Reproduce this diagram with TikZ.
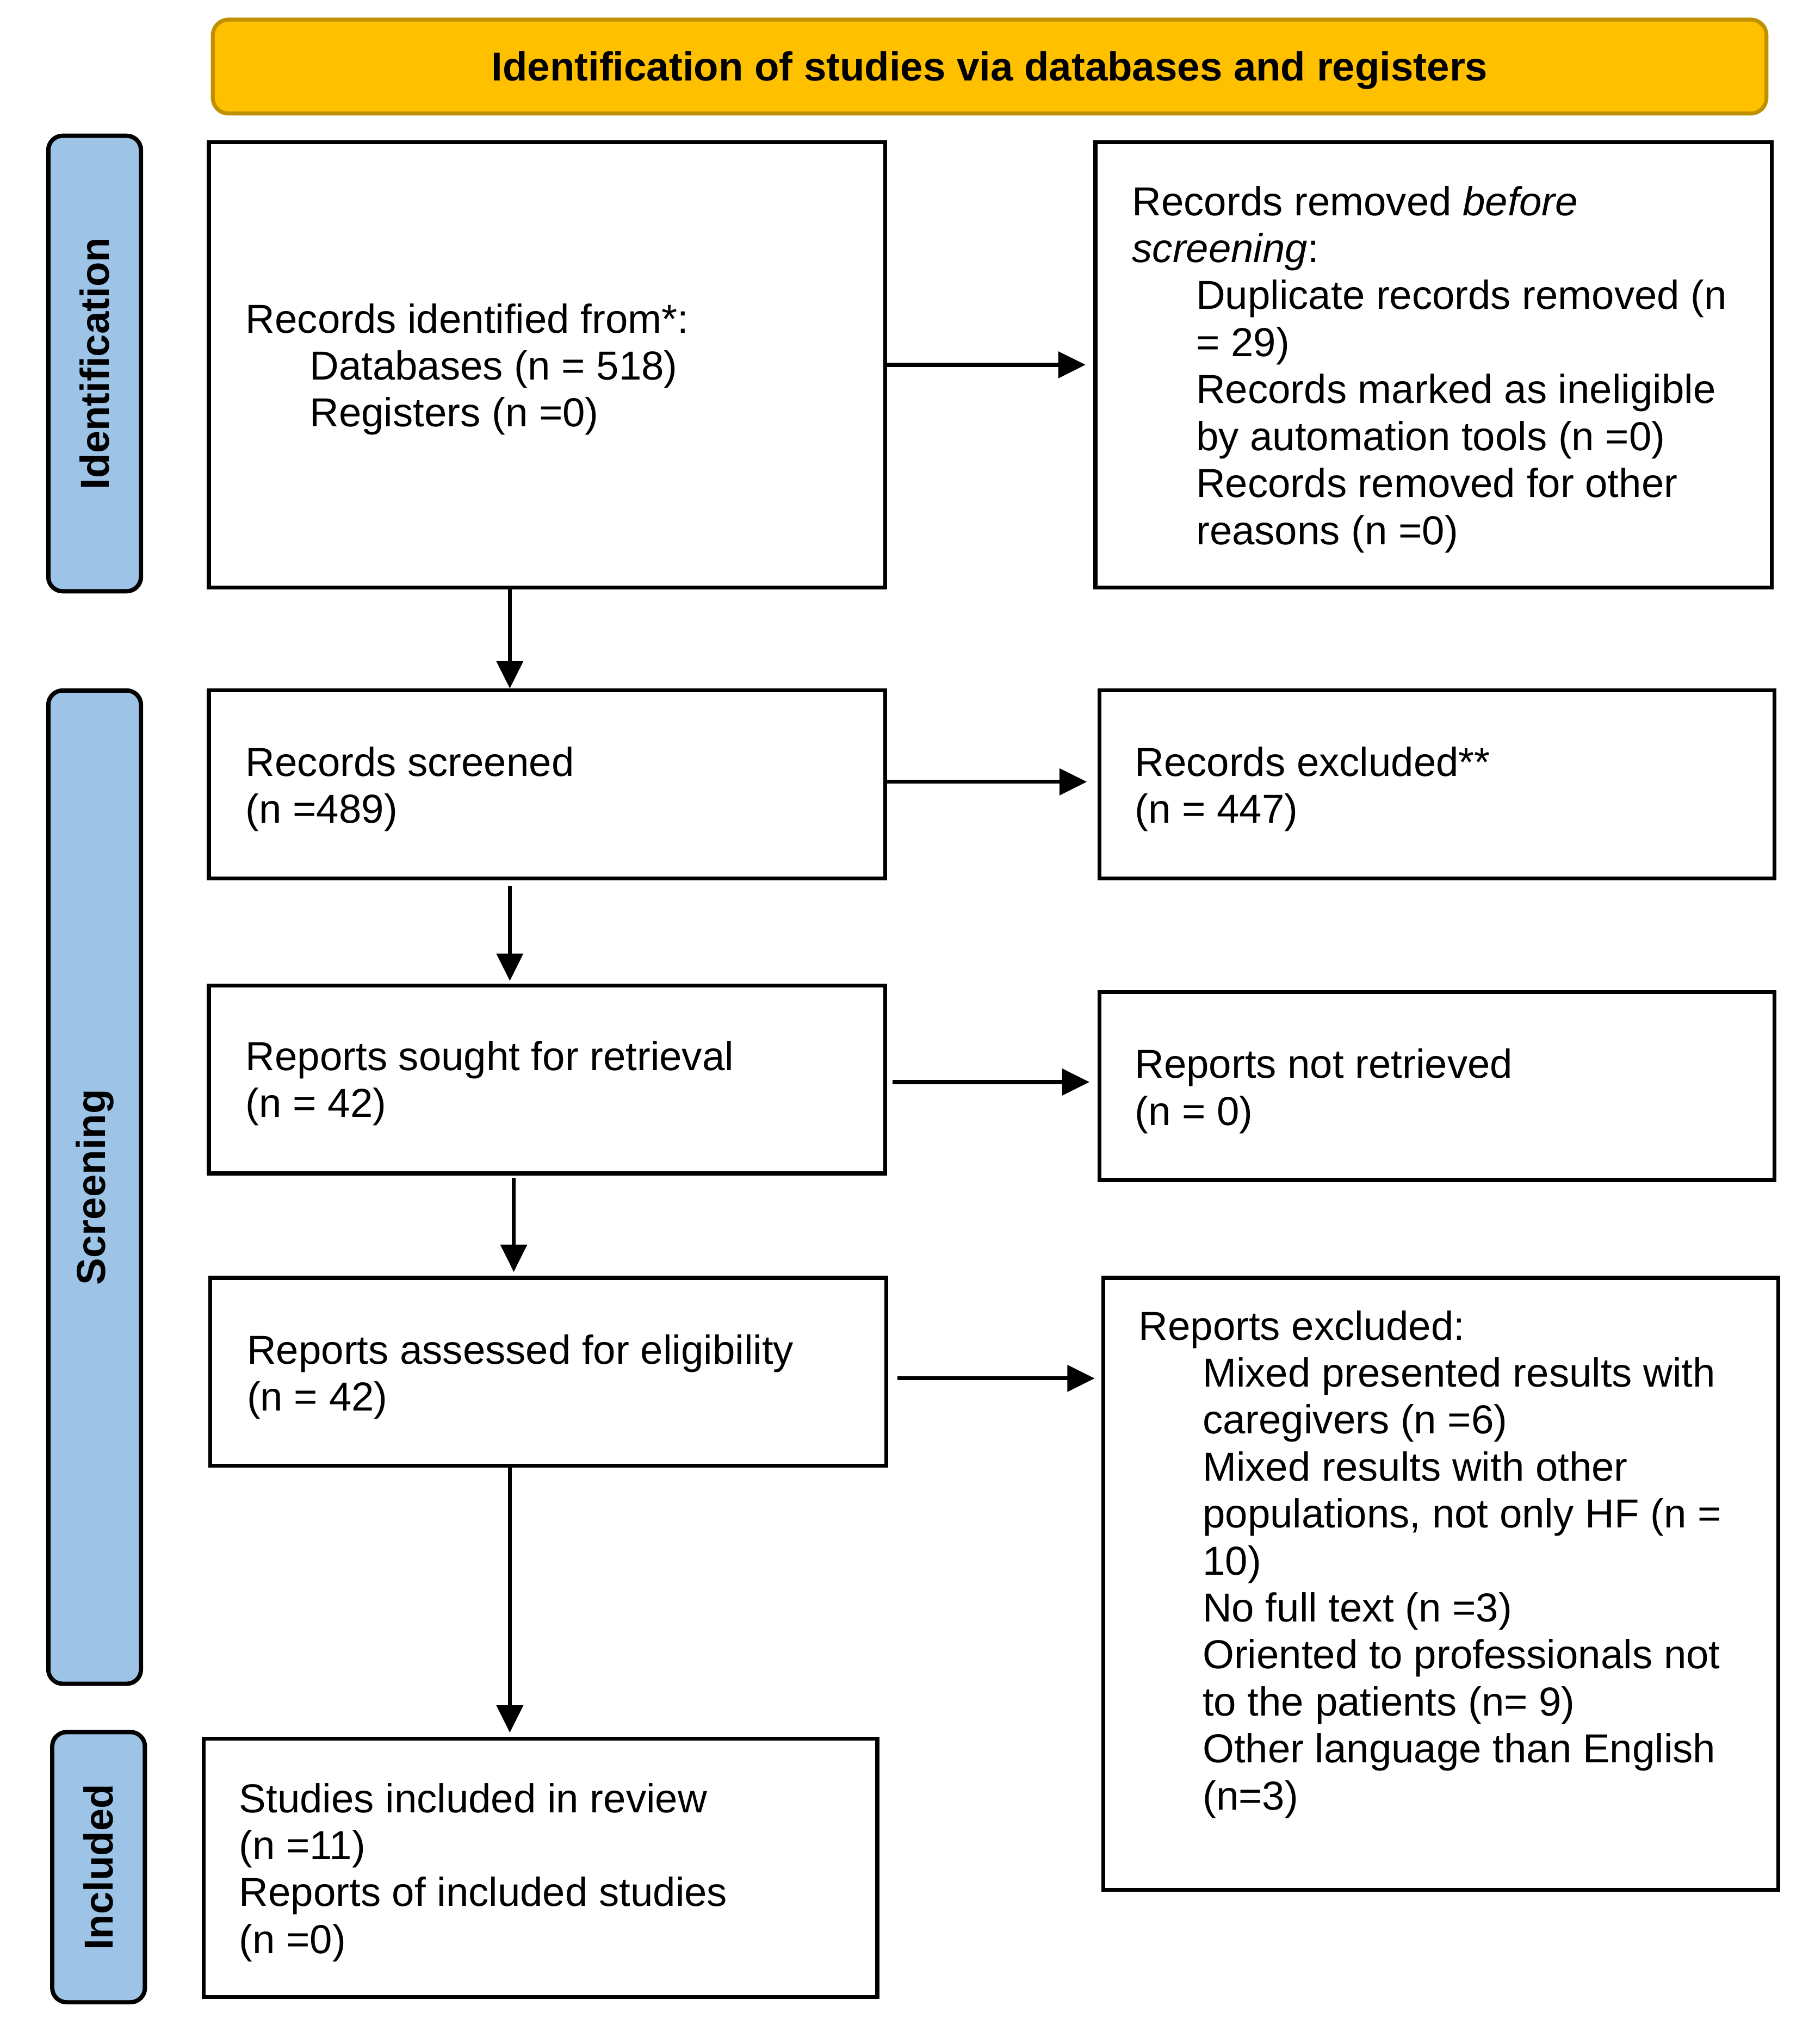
\documentclass[tikz,border=0pt]{standalone}
\usepackage{fontspec}
\setmainfont{Liberation Sans}
\usetikzlibrary{arrows.meta,calc}
\definecolor{gold}{HTML}{FFC000}
\definecolor{goldline}{HTML}{BF9000}
\definecolor{sideblue}{HTML}{9DC3E6}
\newcommand{\ind}{\hspace*{49pt}}
\begin{document}
\begin{tikzpicture}[x=1pt,y=-1pt,
  box/.style={draw=black,line width=3pt,inner sep=0pt},
  txt/.style={anchor=west,align=left,inner sep=0pt,font=\fontsize{31}{36}\selectfont},
  side/.style={draw=black,line width=3.3pt,fill=sideblue,rounded corners=11pt,inner sep=0pt},
  sidelabel/.style={rotate=90,inner sep=0pt,font=\fontsize{31}{36}\selectfont\bfseries},
  titlebox/.style={draw=goldline,line width=3pt,fill=gold,rounded corners=12pt,inner sep=0pt},
  titletext/.style={inner sep=0pt,font=\fontsize{31}{36}\selectfont\bfseries},
  arr/.style={line width=3pt,-{Triangle[length=21pt,width=20pt]}}]
\useasboundingbox (0,0) rectangle (1390,1566);
\fill[white] (0,0) rectangle (1390,1566);

% title
\node[titlebox,minimum width=1190pt,minimum height=72pt] (title) at (758,51) {};
\node[titletext] (tt) at ($(title.center)+(0,3)$) {Identification of studies via databases and registers};

% side labels
\node[side,minimum width=71pt,minimum height=349pt] (s1) at (72.5,278.5) {};
\node[sidelabel] (l1) at (s1.center) {Identification};
\node[side,minimum width=71pt,minimum height=761pt] (s2) at (72.5,909.5) {};
\node[sidelabel] (l2) at (s2.center) {Screening};
\node[side,minimum width=71pt,minimum height=207pt] (s3) at (75.5,1430.5) {};
\node[sidelabel] (l3) at (s3.center) {Included};

% boxes
\node[box,minimum width=518pt,minimum height=341pt] (b1) at (419,279.5) {};
\node[box,minimum width=518pt,minimum height=341pt] (b2) at (1098,279.5) {};
\node[box,minimum width=518pt,minimum height=144pt] (b3) at (419,601) {};
\node[box,minimum width=517pt,minimum height=144pt] (b4) at (1100.5,601) {};
\node[box,minimum width=518pt,minimum height=144pt] (b5) at (419,827) {};
\node[box,minimum width=517pt,minimum height=144pt] (b6) at (1100.5,832) {};
\node[box,minimum width=518pt,minimum height=144pt] (b7) at (420,1051) {};
\node[box,minimum width=517pt,minimum height=469pt] (b8) at (1103.5,1213.5) {};
\node[box,minimum width=516pt,minimum height=198pt] (b9) at (414,1431) {};

% texts
\node[txt] (t1) at (188,283) {Records identified from*:\\\ind Databases (n = 518)\\\ind Registers (n =0)};
\node[txt] (t2) at (867,283) {Records removed \textit{before}\\\textit{screening}:\\\ind Duplicate records removed (n\\\ind = 29)\\\ind Records marked as ineligible\\\ind by automation tools (n =0)\\\ind Records removed for other\\\ind reasons (n =0)};
\node[txt] (t3) at (188,604.5) {Records screened\\(n =489)};
\node[txt] (t4) at (869,604.5) {Records excluded**\\(n = 447)};
\node[txt] (t5) at (188,830) {Reports sought for retrieval\\(n = 42)};
\node[txt] (t6) at (869,836) {Reports not retrieved\\(n = 0)};
\node[txt] (t7) at (189,1055) {Reports assessed for eligibility\\(n = 42)};
\node[txt] (t8) at (872,1198.5) {Reports excluded:\\\ind Mixed presented results with\\\ind caregivers (n =6)\\\ind Mixed results with other\\\ind populations, not only HF (n =\\\ind 10)\\\ind No full text (n =3)\\\ind Oriented to professionals not\\\ind to the patients (n= 9)\\\ind Other language than English\\\ind (n=3)};
\node[txt] (t9) at (183,1434.5) {Studies included in review\\(n =11)\\Reports of included studies\\(n =0)};

% arrows
\draw[arr] ($(b1.south west)+(232,0)$) -- ($(b3.north west)+(232,0)$);
\draw[arr] ($(b3.south west)+(232,4)$) -- ($(b5.north west)+(232,-2)$);
\draw[arr] ($(b5.south west)+(235,2)$) -- ($(b7.north west)+(234,-3)$);
\draw[arr] ($(b7.south west)+(231,0)$) -- ($(b9.north west)+(236,-3)$);
\draw[arr,shorten >=6pt] (b1.east) -- (b2.west);
\draw[arr] ($(b3.east)+(0,-2)$) -- ($(b4.west)+(-8,-2)$);
\draw[arr] ($(b5.east)+(4,2)$) -- ($(b6.west)+(-6,-3)$);
\draw[arr] ($(b7.east)+(7,5)$) -- ($(b8.west |- b7.east)+(-5,5)$);
\end{tikzpicture}
\end{document}
